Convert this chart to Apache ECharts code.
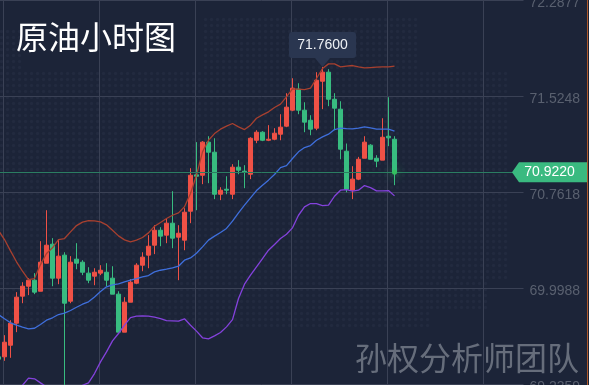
<!DOCTYPE html>
<html>
<head>
<meta charset="utf-8">
<style>
html, body { margin: 0; padding: 0; background: #1c2438; overflow: hidden; }
#chart { width: 589px; height: 385px; }
</style>
<script src="https://cdn.jsdelivr.net/npm/echarts@6/dist/echarts.min.js"></script>
</head>
<body>
<div id="chart"></div>
<script>
// [open, close, low, high]
var candles = [
    [69.456,69.437,69.424,69.469],[69.456,69.572,69.424,69.628],[69.548,69.723,69.448,69.747],[69.723,69.930,69.652,69.970],
    [69.938,70.017,69.882,70.049],[70.017,70.065,69.946,70.081],[70.065,69.970,69.954,70.121],[69.977,70.208,69.977,70.375],
    [70.200,70.343,70.200,70.621],[70.351,70.081,70.017,70.399],[70.081,70.256,70.033,70.391],[70.264,69.882,69.200,70.287],
    [69.898,70.208,69.882,70.256],[70.232,70.200,70.152,70.359],[70.208,70.128,70.105,70.224],[70.121,70.065,70.041,70.168],
    [70.097,70.128,70.025,70.160],[70.121,70.144,70.105,70.184],[70.128,70.065,70.017,70.200],[70.081,69.954,69.954,70.176],
    [69.954,69.652,69.652,69.977],[69.652,69.890,69.652,69.930],[69.890,70.049,69.890,70.073],[70.041,70.184,70.033,70.200],
    [70.184,70.248,70.136,70.287],[70.264,70.335,70.160,70.423],[70.343,70.462,70.272,70.502],[70.462,70.415,70.335,70.486],
    [70.423,70.518,70.359,70.558],[70.518,70.399,70.319,70.772],[70.407,70.438,70.065,70.502],[70.383,70.605,70.303,70.637],
    [70.613,70.899,70.518,70.955],[70.902,70.891,70.621,71.162],[70.899,71.162,70.828,71.170],[71.162,71.082,70.836,71.209],
    [71.082,70.748,70.709,71.193],[70.748,70.780,70.701,70.804],[70.788,70.780,70.748,70.891],[70.748,70.963,70.709,70.987],
    [70.963,70.939,70.907,71.019],[70.931,70.921,70.796,70.979],[70.907,71.193,70.868,71.201],[71.177,71.241,71.154,71.257],
    [71.241,71.177,71.170,71.249],[71.177,71.185,71.170,71.297],[71.185,71.233,71.177,71.273],[71.225,71.281,71.177,71.384],
    [71.289,71.440,71.281,71.551],[71.416,71.591,71.408,71.670],[71.583,71.416,71.384,71.630],[71.416,71.321,71.241,71.479],
    [71.336,71.265,71.217,71.376],[71.273,71.654,71.257,71.718],[71.646,71.718,71.424,71.760],[71.718,71.503,71.448,71.742],
    [71.503,71.432,71.257,71.551],[71.424,71.106,71.026,71.487],[71.090,70.788,70.764,71.151],[70.780,70.868,70.709,70.971],
    [70.868,71.026,70.860,71.045],[71.034,71.162,71.034,71.209],[71.138,71.026,71.026,71.146],[71.034,71.011,70.963,71.058],
    [71.019,71.201,71.019,71.352],[71.209,71.196,71.130,71.519],[71.185,70.922,70.820,71.209]
];
var upperBand = [
    70.460,70.388,70.298,70.211,70.136,70.070,70.078,70.189,70.277,70.322,70.388,70.396,70.449,70.499,70.526,70.539,70.536,
    70.528,70.505,70.462,70.417,70.385,70.370,70.383,70.404,70.441,70.494,70.523,70.555,70.581,70.600,70.648,70.754,70.899,
    71.085,71.177,71.230,71.265,71.289,71.310,71.283,71.262,71.297,71.352,71.379,71.403,71.437,71.464,71.522,71.585,71.583,
    71.580,71.591,71.668,71.747,71.784,71.784,71.760,71.766,71.771,71.760,71.752,71.755,71.758,71.760,71.760,71.766
];
var midBand = [
    69.792,69.758,69.726,69.707,69.691,69.678,69.683,69.713,69.747,69.766,69.792,69.803,69.824,69.850,69.874,69.893,69.932,
    69.975,70.012,70.028,70.036,70.052,70.065,70.078,70.091,70.102,70.131,70.144,70.152,70.163,70.176,70.224,70.242,70.279,
    70.330,70.383,70.415,70.444,70.476,70.534,70.600,70.661,70.719,70.777,70.820,70.860,70.905,70.960,70.976,71.032,71.085,
    71.119,71.135,71.177,71.204,71.225,71.262,71.273,71.270,71.268,71.273,71.283,71.275,71.265,71.265,71.265,71.249
];
var lowerBand = [
    69.111,69.125,69.151,69.191,69.230,69.286,69.281,69.249,69.217,69.164,69.143,69.143,69.159,69.191,69.230,69.249,69.323,
    69.416,69.495,69.583,69.641,69.707,69.768,69.779,69.781,69.779,69.771,69.760,69.744,69.742,69.739,69.758,69.707,69.660,
    69.607,69.599,69.622,69.649,69.694,69.752,69.919,70.033,70.105,70.171,70.237,70.303,70.348,70.396,70.430,70.481,70.581,
    70.648,70.674,70.674,70.658,70.661,70.732,70.780,70.785,70.772,70.780,70.817,70.801,70.775,70.775,70.777,70.735
];
var yTicks = [69.2359, 69.9988, 70.7618, 71.5248, 72.2877];
var xGridTicks = [8, 104, 200, 296, 392, 488];
var lastPrice = 70.922;
var highPrice = 71.76;
var highIndex = 54;
var slotCount = 88;

var categories = [];
for (var c = 0; c < slotCount; c++) {
    categories.push(String(c));
}

// faint dotted world map behind the chart
var dotAreas = [[0, 72, 510, 210], [0, 282, 430, 48], [0, 30, 20, 42], [204, 18, 216, 54], [430, 282, 60, 30]];
var dots = document.createElement('canvas');
dots.width = 589;
dots.height = 385;
var ctx = dots.getContext('2d');
ctx.fillStyle = '#1c2438';
ctx.fillRect(0, 0, 589, 385);
ctx.fillStyle = '#222a3f';
dotAreas.forEach(function(a) {
    for (var x = a[0]; x < a[0] + a[2]; x += 6) {
        for (var y = a[1]; y < a[1] + a[3]; y += 6) {
            ctx.beginPath();
            ctx.arc(x + 1.5, y + 1.5, 1.7, 0, Math.PI * 2);
            ctx.fill();
        }
    }
});

var gridLine = {show: true, lineStyle: {color: '#3a4155', width: 1}};
var _chart = echarts.init(document.getElementById('chart'), null, {renderer: 'canvas'});
var _option = {
    animation: false,
    backgroundColor: {image: dots, repeat: 'no-repeat'},
    grid: {left: -4.5, top: 0.5, width: 528, height: 384, outerBoundsMode: 'none'},
    xAxis: [{
        type: 'category',
        data: categories,
        axisLine: {show: false},
        axisTick: {show: false},
        axisLabel: {show: false},
        splitLine: {show: false}
    }, {
        type: 'value',
        min: 0,
        max: 528,
        axisLine: {show: false},
        axisTick: {show: false, customValues: xGridTicks},
        axisLabel: {show: false},
        splitLine: gridLine
    }],
    yAxis: {
        type: 'value',
        position: 'right',
        scale: true,
        min: yTicks[0],
        max: yTicks[yTicks.length - 1],
        axisLine: {show: false},
        axisTick: {show: false, customValues: yTicks},
        axisLabel: {
            customValues: yTicks,
            margin: 6,
            color: '#59606f',
            fontSize: 14,
            fontFamily: 'Liberation Sans',
            formatter: function(v) { return '{p|' + v.toFixed(4) + '}'; },
            rich: {p: {padding: [6, 0, 0, 0], color: '#59606f', fontSize: 14, fontFamily: 'Liberation Sans'}}
        },
        splitLine: gridLine
    },
    graphic: [
        {type: 'text', left: 16, top: 21, style: {text: '原油小时图', fill: '#ffffff', font: '32px "Noto Sans CJK SC"'}},
        {type: 'text', left: 355, top: 342, style: {text: '孙权分析师团队', fill: '#666d7b', font: '32px "Noto Sans CJK SC"'}},
        {type: 'rect', shape: {x: 587, y: 0, width: 1, height: 385}, style: {fill: '#b0592a'}}
    ],
    series: [{
        name: '原油',
        type: 'candlestick',
        data: candles,
        barWidth: 4,
        itemStyle: {
            color: '#ef5146',
            color0: '#38bc80',
            borderColor: '#ef5146',
            borderColor0: '#38bc80',
            borderWidth: 1
        },
        markLine: {
            silent: true,
            symbol: 'none',
            label: {show: false},
            lineStyle: {color: '#2b7d62', width: 1, type: 'solid'},
            data: [{yAxis: lastPrice}]
        },
        markPoint: {
            silent: true,
            data: [{
                coord: [highIndex, highPrice],
                symbol: 'path://M3 0 H64 Q67 0 67 3 V23 Q67 26 64 26 H41 L33.5 35 L26 26 H3 Q0 26 0 23 V3 Q0 0 3 0 Z',
                symbolSize: [67, 35],
                symbolOffset: [0, -17.5],
                itemStyle: {color: '#2a3650'},
                label: {
                    show: true,
                    position: 'inside',
                    offset: [0, -4],
                    formatter: highPrice.toFixed(4),
                    color: '#eef1f5',
                    fontSize: 14,
                    fontFamily: 'Liberation Sans'
                }
            }, {
                coord: [slotCount - 1, lastPrice],
                symbol: 'path://M0 10 L7 0 L75 0 L75 20 L7 20 Z',
                symbolSize: [75, 20],
                symbolOffset: [29, 0],
                itemStyle: {color: '#3aba80'},
                label: {
                    show: true,
                    position: 'inside',
                    formatter: lastPrice.toFixed(4),
                    color: '#ffffff',
                    fontSize: 14,
                    fontFamily: 'Liberation Sans'
                }
            }, {
                coord: [candles.length - 1, lastPrice],
                symbol: 'circle',
                symbolSize: 5,
                itemStyle: {color: '#35c060', shadowColor: '#2fd060', shadowBlur: 10},
                label: {show: false}
            }]
        }
    }, {
        name: 'upper',
        type: 'line',
        data: upperBand,
        showSymbol: false,
        lineStyle: {color: '#a8402f', width: 1.3}
    }, {
        name: 'mid',
        type: 'line',
        data: midBand,
        showSymbol: false,
        lineStyle: {color: '#3f6fdc', width: 1.3}
    }, {
        name: 'lower',
        type: 'line',
        data: lowerBand,
        showSymbol: false,
        lineStyle: {color: '#8442dc', width: 1.3}
    }]
};
_chart.setOption(_option);
</script>
</body>
</html>
